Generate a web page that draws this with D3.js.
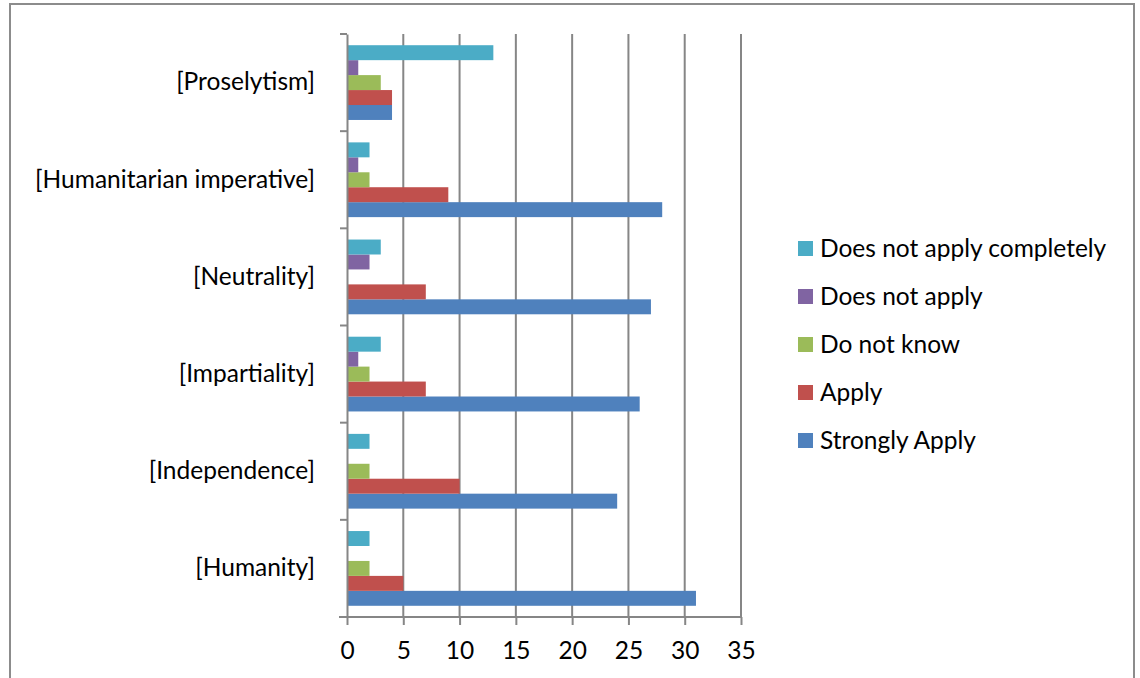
<!DOCTYPE html>
<html>
<head>
<meta charset="utf-8">
<script src="https://cdn.jsdelivr.net/npm/d3@7"></script>
<style>
  html, body { margin: 0; padding: 0; background: #fff; }
  svg { display: block; }
  text { font-family: Lato, "Noto Sans", sans-serif; fill: #000; }
</style>
</head>
<body>
<svg id="chart" width="1140" height="678"></svg>
<script>
// Principles, listed bottom to top as they appear on the axis
const categories = ["[Humanity]", "[Independence]", "[Impartiality]", "[Neutrality]", "[Humanitarian imperative]", "[Proselytism]"];

// Response series (first series sits at the bottom of each group)
const seriesNames = ["Strongly Apply", "Apply", "Do not know", "Does not apply", "Does not apply completely"];
const seriesColors = ["#4F81BD", "#C0504D", "#9BBB59", "#8064A2", "#4BACC6"];

// Counts per category, same order as `categories`
const stronglyApply = [31, 24, 26, 27, 28, 4];
const apply = [5, 10, 7, 7, 9, 4];
const doNotKnow = [2, 2, 2, 0, 2, 3];
const doesNotApply = [0, 0, 1, 2, 1, 1];
const doesNotApplyCompletely = [2, 2, 3, 3, 2, 13];

const xTicks = [0, 5, 10, 15, 20, 25, 30, 35];

const seriesValues = [stronglyApply, apply, doNotKnow, doesNotApply, doesNotApplyCompletely];

const fontSize = 24.5;
const svg = d3.select("#chart");

// outer frame
svg.append("rect")
  .attr("x", 10).attr("y", 4).attr("width", 1124).attr("height", 690)
  .attr("fill", "#fff").attr("stroke", "#8c8c8c").attr("stroke-width", 2);

const plot = { left: 347, right: 741, top: 34, bottom: 617 };

const x = d3.scaleLinear().domain([0, 35]).range([plot.left, plot.right]);

// categories top-to-bottom
const y0 = d3.scaleBand()
  .domain(categories.slice().reverse())
  .range([plot.top, plot.bottom])
  .paddingInner(0).paddingOuter(0);

// series top-to-bottom inside a group
const y1 = d3.scaleBand()
  .domain(seriesNames.slice().reverse())
  .range([0, y0.bandwidth()])
  .paddingInner(0).paddingOuter(0.75);

const gridColor = "#868686";

// vertical gridlines
svg.append("g")
  .selectAll("line")
  .data(xTicks.slice(1))
  .join("line")
  .attr("x1", d => x(d)).attr("x2", d => x(d))
  .attr("y1", plot.top).attr("y2", plot.bottom)
  .attr("stroke", gridColor).attr("stroke-width", 2);

// bars
const groups = svg.append("g")
  .selectAll("g")
  .data(categories)
  .join("g")
  .attr("transform", c => `translate(0,${y0(c)})`);

groups.selectAll("rect")
  .data((c, i) => seriesNames.map((s, k) => ({ s, k, v: seriesValues[k][i] })))
  .join("rect")
  .attr("x", x(0))
  .attr("y", d => y1(d.s))
  .attr("width", d => x(d.v) - x(0))
  .attr("height", y1.bandwidth())
  .attr("fill", d => seriesColors[d.k]);

// x axis
const xAxis = svg.append("g")
  .attr("transform", `translate(0,${plot.bottom})`)
  .call(d3.axisBottom(x).tickValues(xTicks).tickSize(8).tickPadding(17));
xAxis.select(".domain").attr("stroke", gridColor).attr("stroke-width", 2)
  .attr("d", `M${plot.left - 8},0H${plot.right}`);
xAxis.selectAll(".tick line").attr("stroke", gridColor).attr("stroke-width", 2);
xAxis.selectAll(".tick text")
  .style("font-family", "Lato, 'Noto Sans', sans-serif")
  .attr("font-size", fontSize).attr("fill", "#000");

// y axis
const yAxis = svg.append("g")
  .attr("transform", `translate(${plot.left},0)`)
  .call(d3.axisLeft(y0).tickSize(0).tickPadding(32));
yAxis.select(".domain").attr("stroke", gridColor).attr("stroke-width", 2);
yAxis.selectAll(".tick text")
  .style("font-family", "Lato, 'Noto Sans', sans-serif")
  .attr("font-size", fontSize).attr("fill", "#000");

// category separators on the y axis
const yBounds = categories.map(c => y0(c)).concat([plot.top, plot.bottom]);
svg.append("g")
  .selectAll("line")
  .data(Array.from(new Set(yBounds)))
  .join("line")
  .attr("x1", plot.left - 7).attr("x2", plot.left)
  .attr("y1", d => d).attr("y2", d => d)
  .attr("stroke", gridColor).attr("stroke-width", 2);

// legend (reverse series order)
const legend = svg.append("g").attr("transform", "translate(798,241)");
const legendItems = legend.selectAll("g")
  .data(seriesNames.map((s, k) => ({ s, k })).reverse())
  .join("g")
  .attr("transform", (d, i) => `translate(0,${i * 48})`);
legendItems.append("rect")
  .attr("width", 15).attr("height", 15)
  .attr("fill", d => seriesColors[d.k]);
legendItems.append("text")
  .attr("x", 22).attr("y", 7.5).attr("dy", "0.36em")
  .attr("font-size", fontSize)
  .text(d => d.s);
</script>
</body>
</html>
